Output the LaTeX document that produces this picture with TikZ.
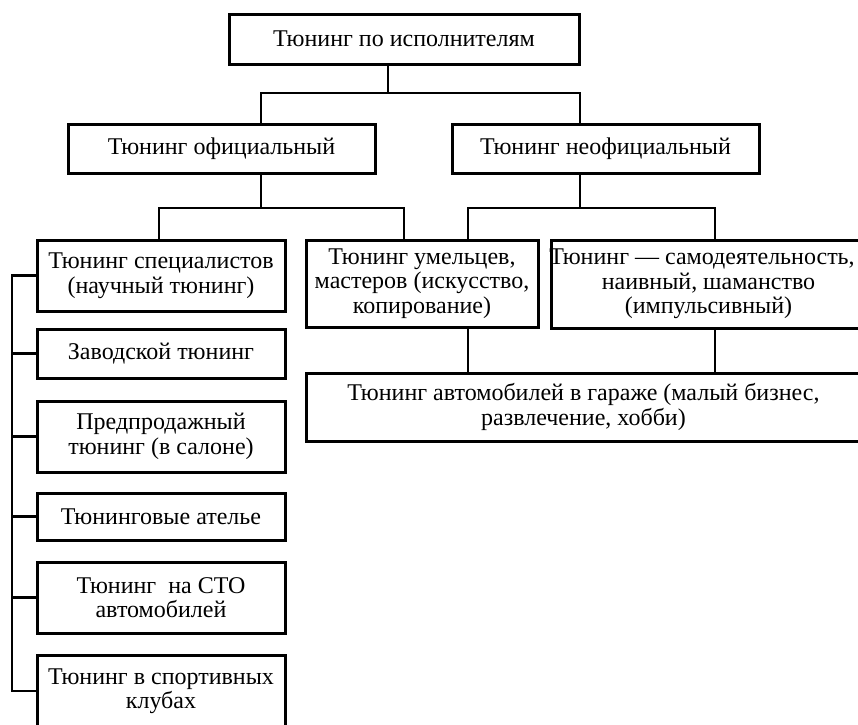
\documentclass[tikz,border=0pt]{standalone}
\usepackage{fontspec}
\setmainfont{Liberation Serif}
\begin{document}
\begin{tikzpicture}[x=1pt,y=-1pt,
  box/.style={draw,line width=3pt,align=center,inner sep=0pt,
    font=\fontsize{24}{24.5}\selectfont},
  conn/.style={line width=2.2pt}]
\useasboundingbox (0,0) rectangle (858,724);
% boxes
\node[box,minimum width=350pt,minimum height=50pt] (top) at (404,39) {Тюнинг по исполнителям};
\node[box,minimum width=307pt,minimum height=49pt] (off) at (221.5,148.5) {Тюнинг официальный};
\node[box,minimum width=307pt,minimum height=49pt] (neoff) at (605.5,148.5) {Тюнинг неофициальный};
\node[box,minimum width=248pt,minimum height=71pt] (spec) at (161,275.5) {Тюнинг специалистов\\(научный тюнинг)};
\node[box,minimum width=248pt,minimum height=49pt] (zav) at (161,353.5) {Заводской тюнинг};
\node[box,minimum width=248pt,minimum height=71pt] (pred) at (161,436.5) {Предпродажный\\тюнинг (в салоне)};
\node[box,minimum width=248pt,minimum height=47pt] (atel) at (161,516.5) {Тюнинговые ателье};
\node[box,minimum width=248pt,minimum height=71pt] (sto) at (161,597.5) {Тюнинг~ на СТО\\автомобилей};
\node[box,minimum width=248pt,minimum height=72pt] (sport) at (161,691) {Тюнинг в спортивных\\клубах};
\node[box,minimum width=232pt,minimum height=87pt] (umel) at (422,283.5) {Тюнинг умельцев,\\мастеров (искусство,\\копирование)};
\node[box,minimum width=315pt,minimum height=88pt] (samo) at (708.5,284) {\hspace*{-13pt}Тюнинг — самодеятельность,\\наивный, шаманство\\(импульсивный)};
\node[box,minimum width=555pt,minimum height=68pt] (gar) at (583.5,407) {Тюнинг автомобилей в гараже (малый бизнес,\\развлечение, хобби)};
% junction coordinates
\coordinate (j1) at (388,93);
\coordinate (j1l) at (261,93);
\coordinate (j1r) at (580,93);
\coordinate (j2) at (261,208);
\coordinate (j2l) at (159,208);
\coordinate (j2r) at (404,208);
\coordinate (j3) at (580,208);
\coordinate (j3l) at (468,208);
\coordinate (j3r) at (715,208);
\coordinate (bus) at (12,275.5);
% connectors
\draw[conn] (top.south -| j1) -- (j1);
\draw[conn] (off.north -| j1l) -- (j1l) -- (j1r) -- (neoff.north -| j1r);
\draw[conn] (off.south -| j2) -- (j2);
\draw[conn] (spec.north -| j2l) -- (j2l) -- (j2r) -- (umel.north -| j2r);
\draw[conn] (neoff.south -| j3) -- (j3);
\draw[conn] (umel.north -| j3l) -- (j3l) -- (j3r) -- (samo.north -| j3r);
\draw[conn] (umel.south -| j3l) -- (gar.north -| j3l);
\draw[conn] (samo.south -| j3r) -- (gar.north -| j3r);
\draw[conn] (spec.west) -- (bus) -- (bus |- sport.west) -- (sport.west);
\draw[conn] (bus |- zav.west) -- (zav.west);
\draw[conn] (bus |- pred.west) -- (pred.west);
\draw[conn] (bus |- atel.west) -- (atel.west);
\draw[conn] (bus |- sto.west) -- (sto.west);
\end{tikzpicture}
\end{document}
